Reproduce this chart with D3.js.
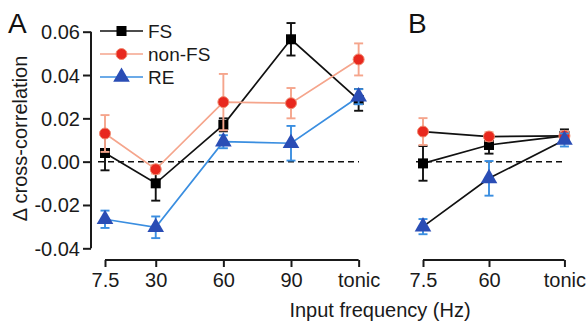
<!DOCTYPE html>
<html><head><meta charset="utf-8">
<script src="https://cdn.jsdelivr.net/npm/d3@7"></script>
<style>body{margin:0;background:#fff}svg{display:block}text{font-family:"Liberation Sans",Arial,sans-serif}</style>
</head><body><svg id="c" width="587" height="324"></svg>
<script>
const freqA = ["7.5","30","60","90","tonic"];
const freqB = ["7.5","60","tonic"];
const hzOf = {"7.5":7.5,"30":30,"60":60,"90":90,"tonic":120};
const yTicks = [0.06,0.04,0.02,0.00,-0.02,-0.04];

const fsA = [0.004,-0.010,0.017,0.0565,0.0285];
const fsAerr = [0.008,0.008,0.003,0.0075,0.005];
const nfsA = [0.013,-0.0035,0.0275,0.027,0.0472];
const nfsAerr = [0.0085,0.002,0.013,0.007,0.0074];
const reA = [-0.0266,-0.0303,0.0092,0.0085,0.030];
const reAerr = [0.004,0.005,0.003,0.008,0.0035];

const fsB = [-0.0008,0.0077,0.0119];
const fsBerr = [0.008,0.004,0.003];
const nfsB = [0.0139,0.0116,0.0119];
const nfsBerr = [0.0062,0.002,0.002];
const reB = [-0.030,-0.0077,0.010];
const reBerr = [0.0035,0.008,0.003];

const svg = d3.select("#c");
const y = d3.scaleLinear().domain([-0.04,0.06]).range([248.3,31.7]);
const xA = d3.scaleLinear().domain([7.5,90]).range([105,291]);
const xB = d3.scaleLinear().domain([7.5,60]).range([423,489]);

const C = {
  fs:{line:"#111",err:"#111",fill:"#000",stroke:"#000"},
  nfs:{line:"#f5a58c",err:"#f5a58c",fill:"#e8281e",stroke:"#f08a70"},
  re:{line:"#3a8ee0",err:"#3a8ee0",fill:"#2a4db5",stroke:"#2a4db5"}
};

const fmt = v => d3.format(".2f")(v).replace("\u2212","-");

// Y axis
const yAx = svg.append("g").attr("transform","translate(91,0)")
  .call(d3.axisLeft(y).tickValues(yTicks).tickSize(8).tickPadding(3).tickFormat(fmt));
yAx.selectAll("path,line").attr("stroke","#1a1a1a").attr("stroke-width",2);
yAx.select("path").attr("d","M0,"+y(0.06)+"V"+y(-0.04));
yAx.selectAll("text").attr("font-size",20).attr("fill","#1a1a1a").attr("dy","0.35em");

function xAxis(scale, cats){
  const g = svg.append("g").attr("transform","translate(0,260)")
    .call(d3.axisBottom(scale).tickValues(cats.map(c=>hzOf[c])).tickSize(7).tickPadding(6)
      .tickFormat(v=>cats.find(c=>hzOf[c]===v)));
  g.selectAll("path,line").attr("stroke","#1a1a1a").attr("stroke-width",2);
  g.select("path").attr("d","M"+scale(hzOf[cats[0]])+",0H"+scale(hzOf[cats[cats.length-1]]));
  g.selectAll("text").attr("font-size",20).attr("fill","#1a1a1a");
}
xAxis(xA, freqA);
xAxis(xB, freqB);

// zero dashed lines
svg.append("line").attr("x1",98).attr("x2",359).attr("y1",y(0)).attr("y2",y(0))
  .attr("stroke","#111").attr("stroke-width",1.5).attr("stroke-dasharray","6,4");
svg.append("line").attr("x1",416).attr("x2",562).attr("y1",y(0)).attr("y2",y(0))
  .attr("stroke","#111").attr("stroke-width",1.5).attr("stroke-dasharray","6,4");

function marker(g, type, cx, cy, col){
  if(type==="fs"){
    g.append("rect").attr("x",cx-5).attr("y",cy-5).attr("width",10).attr("height",10).attr("fill",col.fill);
  } else if(type==="nfs"){
    g.append("circle").attr("cx",cx).attr("cy",cy).attr("r",5.5).attr("fill",col.fill).attr("stroke",col.stroke).attr("stroke-width",1);
  } else {
    g.append("path").attr("d",d3.symbol(d3.symbolTriangle,120)()).attr("transform","translate("+cx+","+(cy)+")").attr("fill",col.fill);
  }
}

function series(scale, cats, vals, errs, type, lineCol){
  const col = C[type];
  const g = svg.append("g");
  const pts = cats.map((c,i)=>[scale(hzOf[c]), y(vals[i])]);
  g.append("path").attr("d",d3.line()(pts)).attr("fill","none").attr("stroke",lineCol||col.line).attr("stroke-width",1.7);
  cats.forEach((c,i)=>{
    const cx = scale(hzOf[c]);
    const t = y(vals[i]+errs[i]), b = y(vals[i]-errs[i]);
    g.append("line").attr("x1",cx).attr("x2",cx).attr("y1",t).attr("y2",b).attr("stroke",col.err).attr("stroke-width",1.9);
    [t,b].forEach(yy=>g.append("line").attr("x1",cx-4.5).attr("x2",cx+4.5).attr("y1",yy).attr("y2",yy).attr("stroke",col.err).attr("stroke-width",1.9));
  });
  return {g, pts};
}
function markers(s, type){ s.pts.forEach(p=>marker(s.g,type,p[0],p[1],C[type])); }

const sA1 = series(xA,freqA,fsA,fsAerr,"fs");
markers(sA1,"fs");
const sA2 = series(xA,freqA,nfsA,nfsAerr,"nfs");
markers(sA2,"nfs");
const sA3 = series(xA,freqA,reA,reAerr,"re");
markers(sA3,"re");

const sB1 = series(xB,freqB,fsB,fsBerr,"fs","#111");
const sB2 = series(xB,freqB,nfsB,nfsBerr,"nfs","#111");
const sB3 = series(xB,freqB,reB,reBerr,"re","#111");
markers(sB1,"fs"); markers(sB2,"nfs"); markers(sB3,"re");

// legend
const leg = [["FS","fs"],["non-FS","nfs"],["RE","re"]];
leg.forEach((d,i)=>{
  const ly = 31 + i*23;
  const g = svg.append("g");
  g.append("line").attr("x1",100).attr("x2",143).attr("y1",ly).attr("y2",ly).attr("stroke",C[d[1]].line).attr("stroke-width",1.7);
  marker(g,d[1],121.5,ly,C[d[1]]);
  g.append("text").attr("x",148).attr("y",ly).attr("dy","0.36em").attr("font-size",19).attr("fill","#1a1a1a").text(d[0]);
});

// titles
svg.append("text").attr("x",8).attr("y",33).attr("font-size",28).attr("fill","#111").text("A");
svg.append("text").attr("x",408).attr("y",33).attr("font-size",28).attr("fill","#111").text("B");
svg.append("text").attr("transform","translate(27,138.5) rotate(-90)").attr("text-anchor","middle")
  .attr("font-size",20).attr("fill","#1a1a1a").text("Δ cross-correlation");
svg.append("text").attr("x",380).attr("y",317).attr("text-anchor","middle")
  .attr("font-size",20).attr("fill","#1a1a1a").text("Input frequency (Hz)");
</script></body></html>
